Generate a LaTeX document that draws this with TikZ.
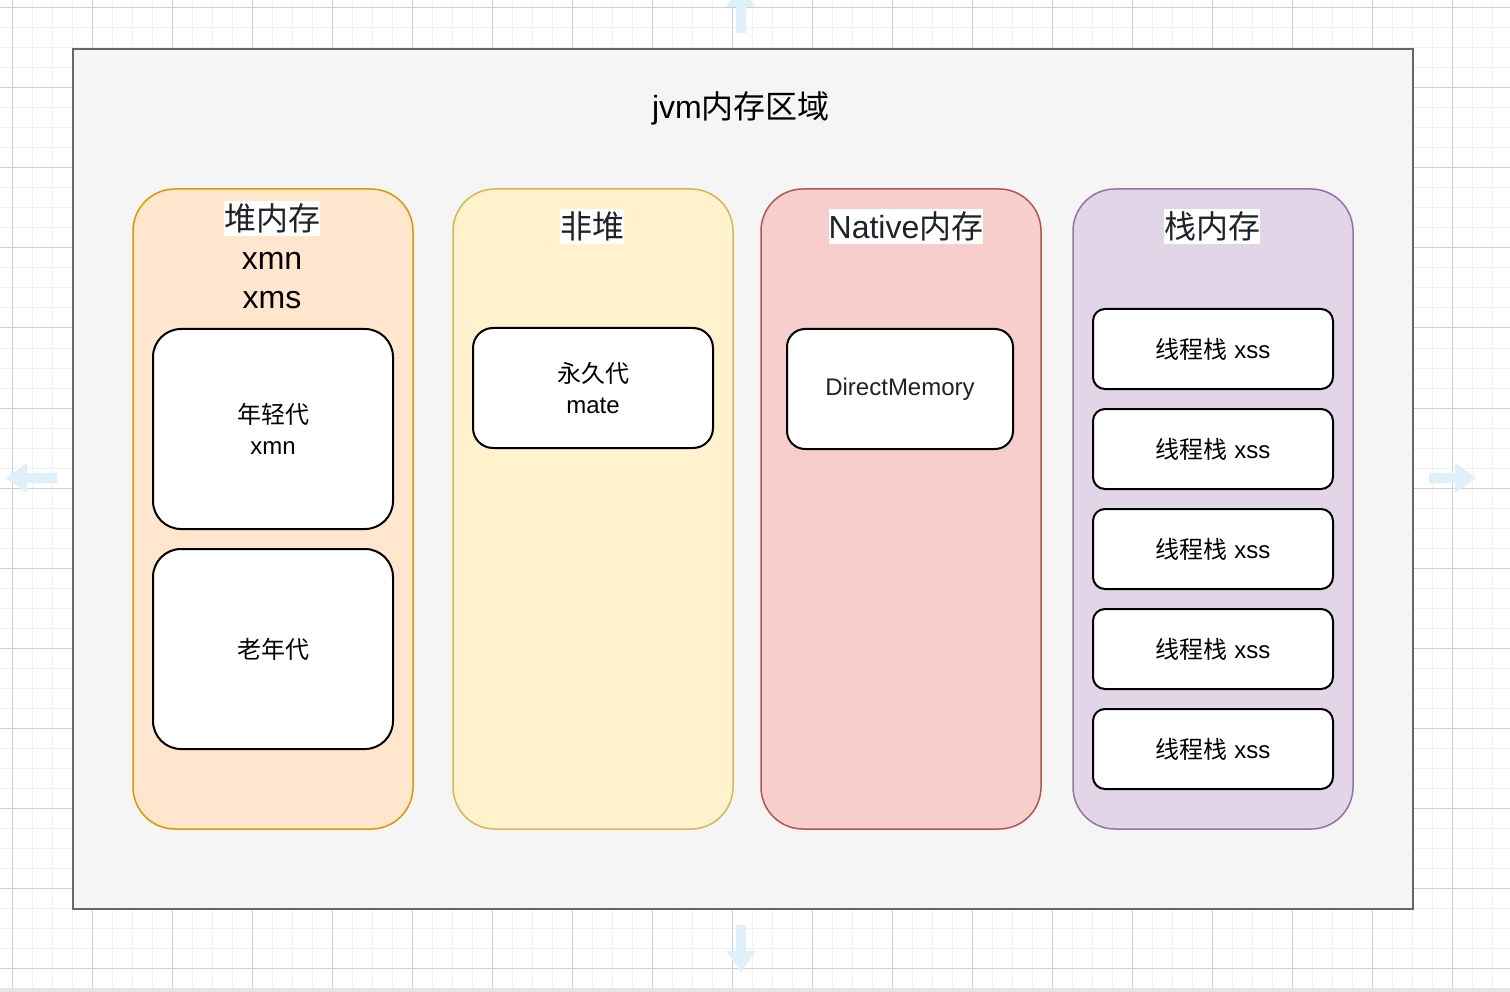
\documentclass[tikz,border=0pt]{standalone}
\usepackage{fontspec}
\setmainfont{Liberation Sans}
\newfontfamily\cjk{Noto Sans CJK SC}
\usetikzlibrary{positioning}
\definecolor{areagray}{HTML}{F5F5F5}
\definecolor{areaedge}{HTML}{666666}
\definecolor{heapfill}{HTML}{FFE6CC}
\definecolor{heapedge}{HTML}{D79B00}
\definecolor{nonheapfill}{HTML}{FFF2CC}
\definecolor{nonheapedge}{HTML}{D6B656}
\definecolor{nativefill}{HTML}{F8CECC}
\definecolor{nativeedge}{HTML}{B85450}
\definecolor{stackfill}{HTML}{E1D5E7}
\definecolor{stackedge}{HTML}{9673A6}
\definecolor{headtext}{HTML}{1F2329}
\definecolor{minorgrid}{HTML}{F0F0F0}
\definecolor{majorgrid}{HTML}{D0D0D0}
\definecolor{hoverblue}{HTML}{DFF0FB}

\begin{document}
\begin{tikzpicture}[x=1pt, y=-1pt,
    column/.style={draw, line width=1.5pt, rounded corners=42pt, minimum width=280pt, minimum height=640pt, inner sep=0pt},
    cell/.style={draw, fill=white, line width=2pt, align=center, minimum width=240pt, font=\fontsize{24}{31}\selectfont},
    header/.style={fill=white, inner xsep=0pt, inner ysep=1pt, text=headtext, text height=28pt, text depth=5pt, font=\fontsize{32}{40}\selectfont},
    plain/.style={inner sep=0pt, font=\fontsize{32}{40}\selectfont}]
    \useasboundingbox (0,0) rectangle (1510,992);
    \clip (0,0) rectangle (1510,992);
    % canvas grid
    \fill[white] (0,0) rectangle (1510,992);
    \foreach \g in {12,32,...,1512} \draw[minorgrid, line width=1pt] (\g,0) -- (\g,988);
    \foreach \g in {8,28,...,988} \draw[minorgrid, line width=1pt] (0,\g) -- (1510,\g);
    \foreach \g in {12,92,...,1512} \draw[majorgrid, line width=1pt] (\g,0) -- (\g,988);
    \foreach \g in {8,88,...,988} \draw[majorgrid, line width=1pt] (0,\g) -- (1510,\g);
    \fill[black!10] (0,988) rectangle (1510,992);
    % hover arrows
    \fill[hoverblue] (736,33) -- (746,33) -- (746,7) -- (756,7) -- (741,-14) -- (726,7) -- (736,7) -- cycle;
    \fill[hoverblue] (736,925) -- (746,925) -- (746,951) -- (756,951) -- (741,972) -- (726,951) -- (736,951) -- cycle;
    \fill[hoverblue] (57,473) -- (57,483) -- (27,483) -- (27,493) -- (6,478) -- (27,463) -- (27,473) -- cycle;
    \fill[hoverblue] (1429,473) -- (1429,483) -- (1455,483) -- (1455,493) -- (1476,478) -- (1455,463) -- (1455,473) -- cycle;

    \node[draw=areaedge, fill=areagray, line width=1.5pt, minimum width=1340pt, minimum height=860pt] (jvm) at (743,479) {};
    \node[plain] (jvmtitle) at (741,108) {jvm{\cjk 内存区域}};

    \node[column, fill=heapfill, draw=heapedge] (heap) at (273,509) {};
    \node[column, fill=nonheapfill, draw=nonheapedge] (nonheap) at (593,509) {};
    \node[column, fill=nativefill, draw=nativeedge] (native) at (901,509) {};
    \node[column, fill=stackfill, draw=stackedge] (stack) at (1213,509) {};

    \node[header] (heaptitle) at (272,219) {\cjk 堆内存};
    \node[plain] (xmn) at (272,261) {xmn};
    \node[plain] (xms) at (272,300) {xms};
    \node[header] (nonheaptitle) at (592,227) {\cjk 非堆};
    \node[header] (nativetitle) at (906,227) {Native{\cjk 内存}};
    \node[header] (stacktitle) at (1212,227) {\cjk 栈内存};

    \node[cell, rounded corners=28pt, minimum height=200pt] (young) at (273,429) {{\cjk 年轻代}\\xmn};
    \node[cell, rounded corners=28pt, minimum height=200pt, below=18pt of young] (old) {\cjk 老年代};
    \node[cell, rounded corners=20pt, minimum height=120pt] (perm) at (593,388) {{\cjk 永久代}\\mate};
    \node[cell, rounded corners=18pt, minimum height=120pt, minimum width=226pt, text=headtext] (direct) at (900,389) {DirectMemory};
    \foreach \i in {1,...,5}
        \node[cell, rounded corners=12pt, minimum height=80pt] (thread\i) at (1213,249+100*\i) {{\cjk 线程栈} xss};
\end{tikzpicture}
\end{document}
